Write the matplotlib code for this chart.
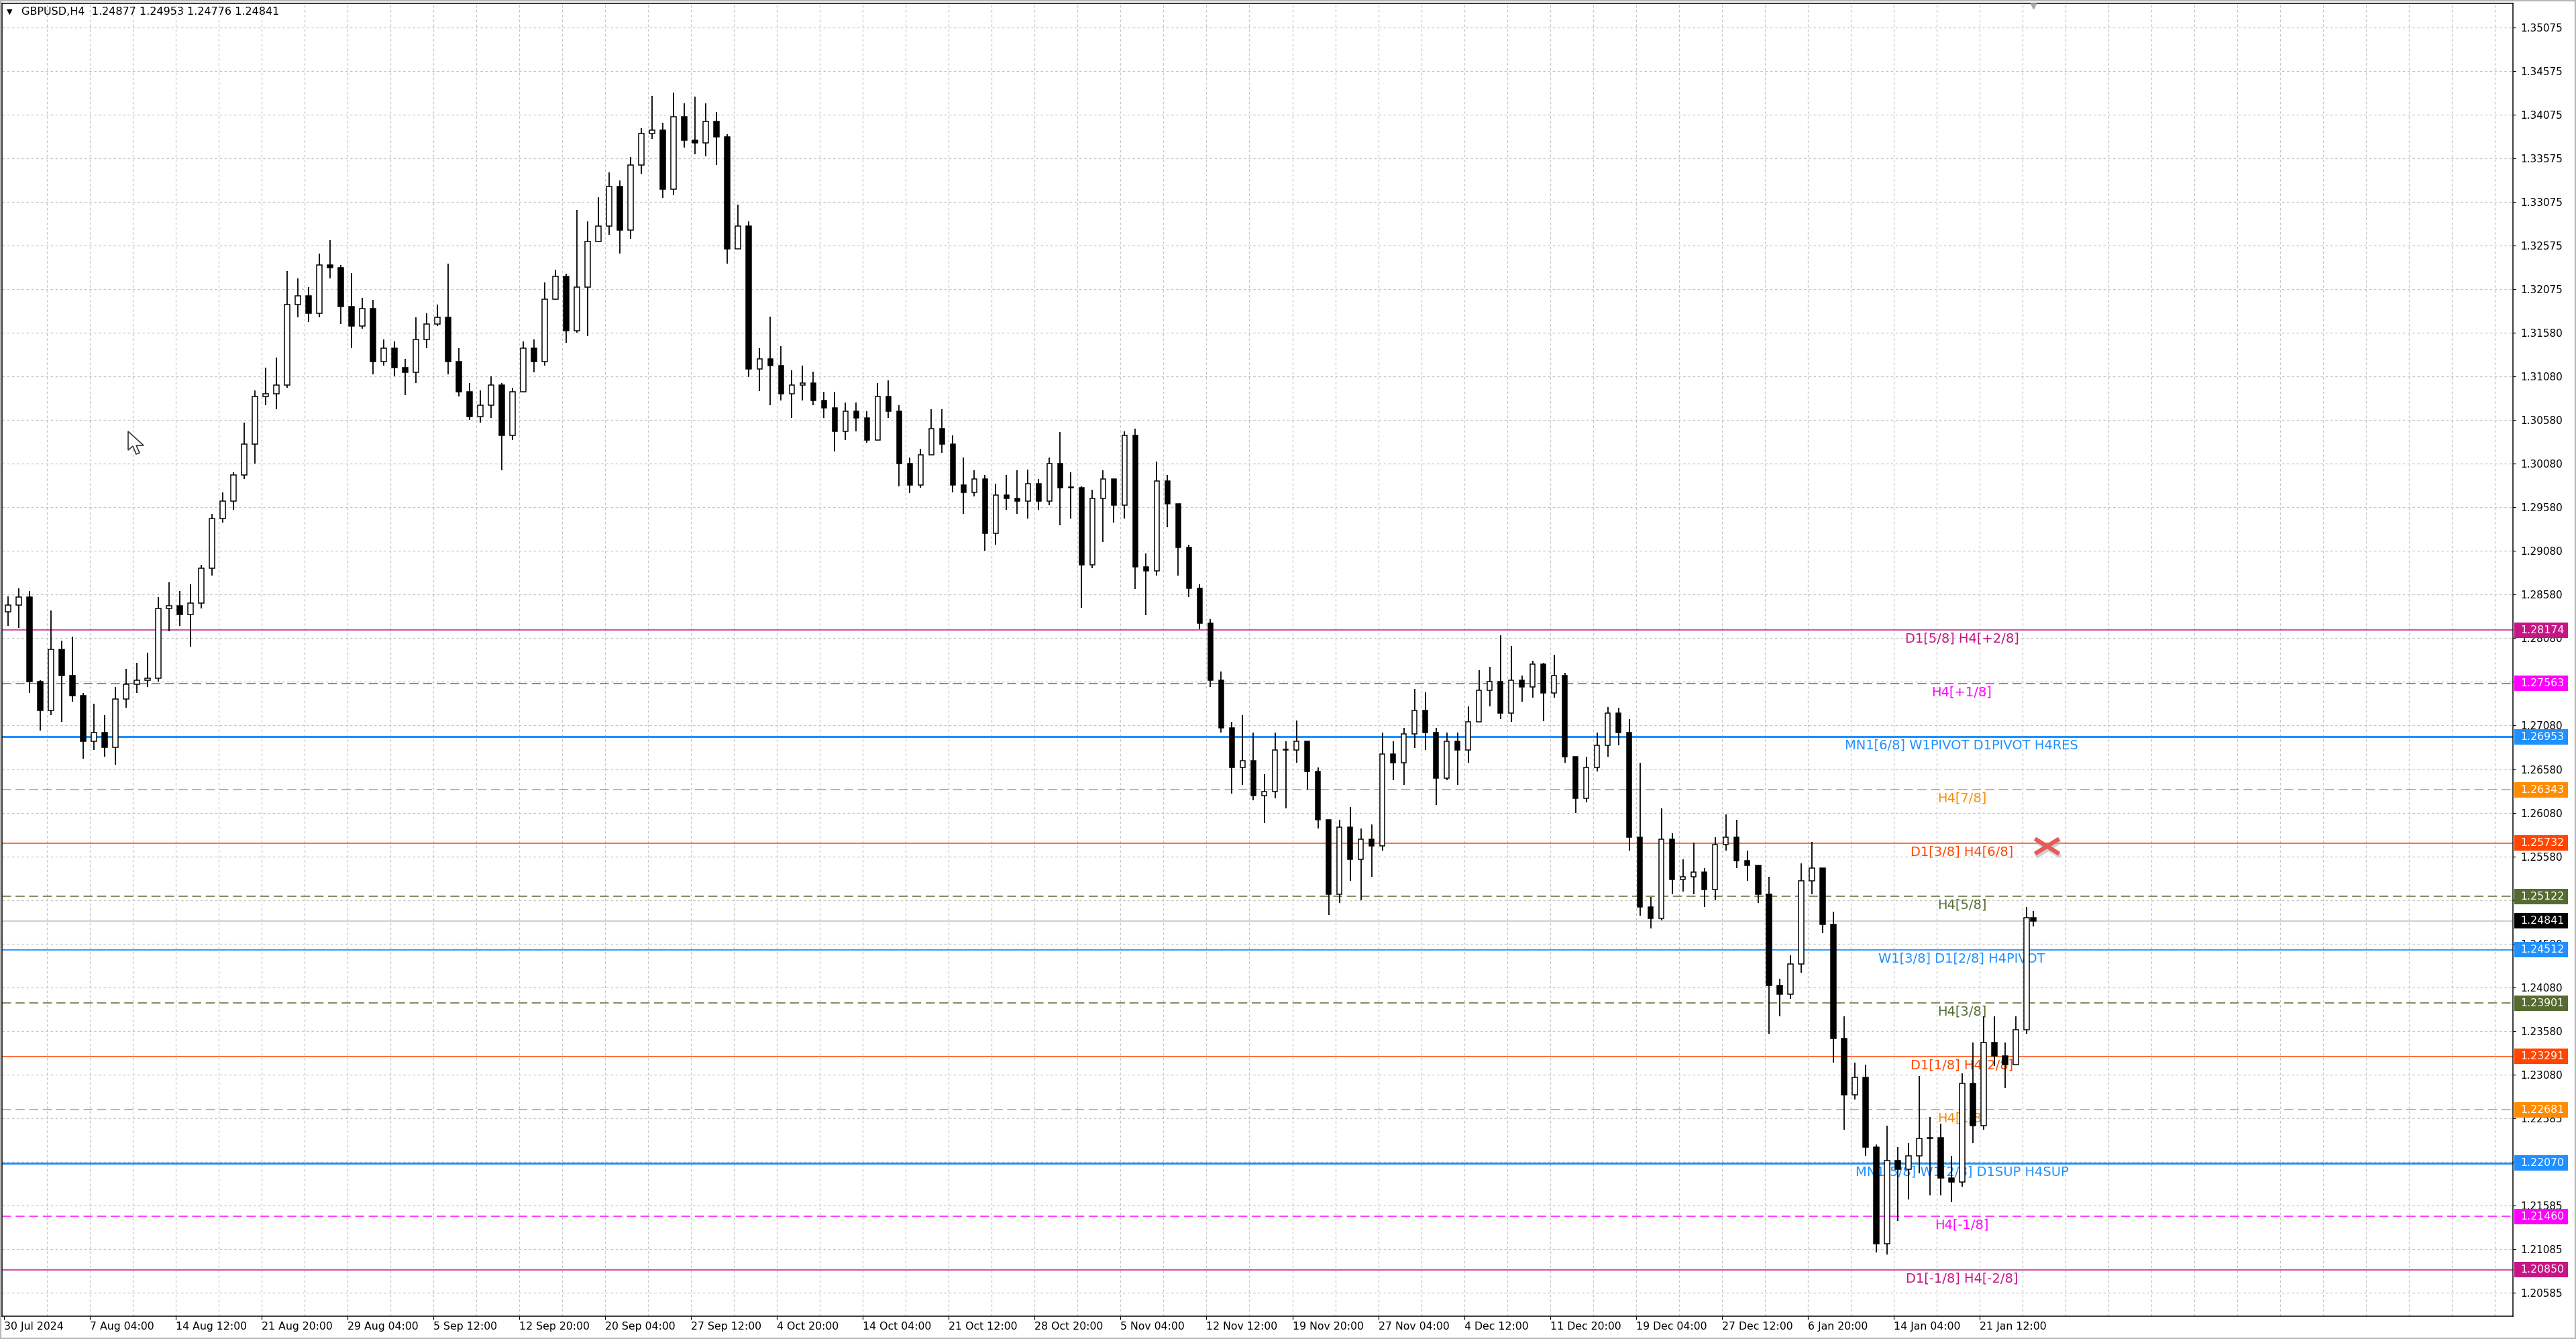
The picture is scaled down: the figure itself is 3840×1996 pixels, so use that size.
import numpy as np
import matplotlib
matplotlib.use('Agg')
import matplotlib.pyplot as plt
import matplotlib.transforms as mtransforms
from matplotlib import font_manager
from matplotlib.patches import Polygon, Rectangle
from matplotlib.path import Path

# ---- data -----------------------------------------------------------------
SYMBOL = 'GBPUSD,H4'
LAST_BAR = [1.24877, 1.24953, 1.24776, 1.24841]   # open, high, low, close

# one candle per 4 H4 bars (16h blocks), starting 30 Jul 2024 20:00
first_open = 1.2838
highs = [
    1.2856, 1.2865, 1.2862, 1.2760, 1.2840, 1.2805, 1.2810, 1.2745, 1.2733, 1.2720,
    1.2752, 1.2773, 1.2780, 1.2791, 1.2855, 1.2872, 1.2862, 1.2870, 1.2892, 1.2950,
    1.2975, 1.2998, 1.3055, 1.3092, 1.3118, 1.3129, 1.3228, 1.3220, 1.3210, 1.3248,
    1.3264, 1.3235, 1.3226, 1.3198, 1.3195, 1.3150, 1.3148, 1.3128, 1.3175, 1.3180,
    1.3190, 1.3237, 1.3140, 1.3100, 1.3092, 1.3108, 1.3100, 1.3095, 1.3148, 1.3150,
    1.3215, 1.3230, 1.3225, 1.3298, 1.3285, 1.3313, 1.3341, 1.3332, 1.3359, 1.3392,
    1.3429, 1.3398, 1.3433, 1.3420, 1.3428, 1.3420, 1.3410, 1.3385, 1.3304, 1.3285,
    1.3140, 1.3176, 1.3142, 1.3115, 1.3120, 1.3113, 1.3090, 1.3090, 1.3078, 1.3078,
    1.3068, 1.3100, 1.3103, 1.3075, 1.3015, 1.3025, 1.3070, 1.3070, 1.3040, 1.3015,
    1.3000, 1.2995, 1.2985, 1.2995, 1.3000, 1.3001, 1.2990, 1.3015, 1.3044, 1.2998,
    1.2982, 1.2978, 1.3000, 1.2985, 1.3045, 1.3048, 1.2905, 1.3010, 1.2995, 1.2960,
    1.2915, 1.2870, 1.2830, 1.2770, 1.2712, 1.2720, 1.2700, 1.2652, 1.2700, 1.2690,
    1.2714, 1.2690, 1.2660, 1.2600, 1.2600, 1.2615, 1.2590, 1.2595, 1.2700, 1.2690,
    1.2705, 1.2750, 1.2746, 1.2705, 1.2700, 1.2700, 1.2730, 1.2771, 1.2775, 1.2811,
    1.2799, 1.2765, 1.2782, 1.2780, 1.2789, 1.2768, 1.2672, 1.2672, 1.2700, 1.2729,
    1.2728, 1.2715, 1.2665, 1.2512, 1.2613, 1.2585, 1.2555, 1.2574, 1.2545, 1.2580,
    1.2606, 1.2600, 1.2565, 1.2545, 1.2535, 1.2418, 1.2445, 1.2550, 1.2575, 1.2545,
    1.2495, 1.2375, 1.2322, 1.2320, 1.2228, 1.2250, 1.2225, 1.2230, 1.2307, 1.2260,
    1.2252, 1.2215, 1.2310, 1.2345, 1.2375, 1.2375, 1.2345, 1.2375, 1.2500, 1.24953,
]
lows = [
    1.2822, 1.2820, 1.2745, 1.2702, 1.2720, 1.2712, 1.2735, 1.2670, 1.2680, 1.2672,
    1.2663, 1.2728, 1.2745, 1.2752, 1.2758, 1.2816, 1.2822, 1.2798, 1.2842, 1.2880,
    1.2940, 1.2955, 1.2990, 1.3008, 1.3075, 1.3070, 1.3095, 1.3175, 1.3170, 1.3175,
    1.3220, 1.3168, 1.3140, 1.3162, 1.3110, 1.3120, 1.3108, 1.3086, 1.3100, 1.3140,
    1.3165, 1.3110, 1.3085, 1.3058, 1.3055, 1.3060, 1.3000, 1.3035, 1.3090, 1.3112,
    1.3120, 1.3195, 1.3146, 1.3158, 1.3154, 1.3272, 1.3270, 1.3248, 1.3265, 1.3340,
    1.3380, 1.3312, 1.3315, 1.3370, 1.3362, 1.3360, 1.3350, 1.3237, 1.3258, 1.3107,
    1.3091, 1.3075, 1.3080, 1.3060, 1.3080, 1.3075, 1.3060, 1.3022, 1.3035, 1.3045,
    1.3032, 1.3045, 1.3060, 1.2982, 1.2974, 1.2980, 1.3018, 1.3020, 1.2975, 1.2950,
    1.2970, 1.2908, 1.2915, 1.2955, 1.2950, 1.2945, 1.2955, 1.2960, 1.2937, 1.2945,
    1.2843, 1.2888, 1.2918, 1.2940, 1.2945, 1.2864, 1.2834, 1.2880, 1.2935, 1.2880,
    1.2855, 1.2818, 1.2752, 1.2700, 1.2630, 1.2640, 1.2622, 1.2596, 1.2625, 1.2613,
    1.2665, 1.2635, 1.2590, 1.2491, 1.2505, 1.2530, 1.2508, 1.2535, 1.2565, 1.2645,
    1.2640, 1.2682, 1.2680, 1.2617, 1.2645, 1.2640, 1.2665, 1.2712, 1.2730, 1.2715,
    1.2712, 1.2735, 1.2740, 1.2713, 1.2740, 1.2665, 1.2608, 1.2620, 1.2655, 1.2672,
    1.2685, 1.2565, 1.2490, 1.2476, 1.2485, 1.2515, 1.2518, 1.2515, 1.2500, 1.2508,
    1.2565, 1.2545, 1.2530, 1.2505, 1.2355, 1.2375, 1.2395, 1.2425, 1.2515, 1.2470,
    1.2322, 1.2245, 1.2280, 1.2215, 1.2105, 1.2102, 1.2141, 1.2165, 1.2195, 1.2170,
    1.2170, 1.2162, 1.2180, 1.2230, 1.2245, 1.2318, 1.2293, 1.2330, 1.2355, 1.24776,
]
closes = [
    1.2846, 1.2855, 1.2758, 1.2725, 1.2795, 1.2765, 1.2742, 1.2690, 1.2700, 1.2683,
    1.2738, 1.2755, 1.2760, 1.2762, 1.2842, 1.2845, 1.2835, 1.2848, 1.2888, 1.2945,
    1.2965, 1.2995, 1.3030, 1.3085, 1.3088, 1.3098, 1.3190, 1.3200, 1.3180, 1.3235,
    1.3232, 1.3188, 1.3165, 1.3185, 1.3125, 1.3140, 1.3118, 1.3112, 1.3150, 1.3168,
    1.3175, 1.3125, 1.3090, 1.3062, 1.3075, 1.3098, 1.3040, 1.3090, 1.3140, 1.3125,
    1.3196, 1.3222, 1.3160, 1.3210, 1.3262, 1.3280, 1.3325, 1.3275, 1.3350, 1.3386,
    1.3390, 1.3322, 1.3405, 1.3378, 1.3375, 1.3400, 1.3382, 1.3254, 1.3280, 1.3116,
    1.3128, 1.3120, 1.3088, 1.3098, 1.3100, 1.3080, 1.3072, 1.3045, 1.3068, 1.3060,
    1.3035, 1.3085, 1.3068, 1.3008, 1.2983, 1.3018, 1.3048, 1.3030, 1.2983, 1.2975,
    1.2990, 1.2928, 1.2972, 1.2968, 1.2965, 1.2985, 1.2965, 1.3008, 1.2980, 1.2980,
    1.2892, 1.2968, 1.2990, 1.2960, 1.3040, 1.2890, 1.2885, 1.2988, 1.2962, 1.2912,
    1.2865, 1.2825, 1.2760, 1.2705, 1.2660, 1.2668, 1.2628, 1.2632, 1.2680, 1.2680,
    1.2690, 1.2655, 1.2600, 1.2515, 1.2592, 1.2555, 1.2578, 1.2570, 1.2675, 1.2665,
    1.2698, 1.2725, 1.2700, 1.2648, 1.2690, 1.2680, 1.2712, 1.2748, 1.2758, 1.2722,
    1.2760, 1.2752, 1.2778, 1.2745, 1.2765, 1.2672, 1.2625, 1.2660, 1.2685, 1.2722,
    1.2700, 1.2580, 1.2500, 1.2487, 1.2578, 1.2532, 1.2535, 1.2540, 1.2520, 1.2572,
    1.2580, 1.2553, 1.2548, 1.2515, 1.2410, 1.2400, 1.2435, 1.2530, 1.2545, 1.2480,
    1.2350, 1.2285, 1.2305, 1.2225, 1.2115, 1.2210, 1.2200, 1.2215, 1.2235, 1.2236,
    1.2190, 1.2185, 1.2298, 1.2250, 1.2345, 1.2330, 1.2320, 1.2360, 1.2488, 1.24841,
]

time_labels = [
    '30 Jul 2024', '7 Aug 04:00', '14 Aug 12:00', '21 Aug 20:00', '29 Aug 04:00',
    '5 Sep 12:00', '12 Sep 20:00', '20 Sep 04:00', '27 Sep 12:00', '4 Oct 20:00',
    '14 Oct 04:00', '21 Oct 12:00', '28 Oct 20:00', '5 Nov 04:00', '12 Nov 12:00',
    '19 Nov 20:00', '27 Nov 04:00', '4 Dec 12:00', '11 Dec 20:00', '19 Dec 04:00',
    '27 Dec 12:00', '6 Jan 20:00', '14 Jan 04:00', '21 Jan 12:00',
]
price_ticks = [
    1.35075, 1.34575, 1.34075, 1.33575, 1.33075, 1.32575, 1.32075, 1.31580, 1.31080,
    1.30580, 1.30080, 1.29580, 1.29080, 1.28580, 1.28080, 1.27580, 1.27080, 1.26580,
    1.26080, 1.25580, 1.25080, 1.24580, 1.24080, 1.23580, 1.23080, 1.22585, 1.22085,
    1.21585, 1.21085, 1.20585,
]

level_prices = [1.28174, 1.27563, 1.26953, 1.26343, 1.25732, 1.25122, 1.24512,
                1.23901, 1.23291, 1.22681, 1.22070, 1.21460, 1.20850]
level_names = ['D1[5/8] H4[+2/8]', 'H4[+1/8]', 'MN1[6/8] W1PIVOT D1PIVOT H4RES',
               'H4[7/8]', 'D1[3/8] H4[6/8]', 'H4[5/8]', 'W1[3/8] D1[2/8] H4PIVOT',
               'H4[3/8]', 'D1[1/8] H4[2/8]', 'H4[1/8]', 'MN1[5/8] W1[2/8] D1SUP H4SUP',
               'H4[-1/8]', 'D1[-1/8] H4[-2/8]']
level_kinds = ['outer', 'plus', 'pivot', 'seven', 'd1', 'five', 'h4pivot',
               'five', 'd1', 'seven', 'pivot', 'plus', 'outer']

# ---- styles ----------------------------------------------------------------
PX = 0.72                      # one pixel in points at dpi 100
kind_style = {
    'outer':   ('#C71585', 'solid', 1.5),
    'plus':    ('#FF00FF', 'dashed', 1.5),
    'pivot':   ('#1E90FF', 'solid', 3.0),
    'seven':   ('#FF8C00', 'dashed', 1.5),
    'd1':      ('#FF4500', 'solid', 1.5),
    'five':    ('#556B2F', 'dashed', 1.5),
    'h4pivot': ('#1E90FF', 'solid', 1.8),
}
GRID = '#c4c4c4'
W, H = 3840, 1996
AX_L, AX_R, AX_T, AX_B = 3, 3746, 5, 1962
BARS_PER_CANDLE = 4

plt.rcParams['font.family'] = ['DejaVu Sans']

# narrow face for the level names, if present
try:
    font_manager.findfont('Liberation Sans Narrow', fallback_to_default=False)
    name_font, name_size = ['Liberation Sans Narrow', 'DejaVu Sans'], 18.5
except ValueError:
    name_font, name_size = ['DejaVu Sans'], 14

fig = plt.figure(figsize=(W / 100, H / 100), dpi=100)
ax = fig.add_axes([AX_L / W, 1 - AX_B / H, (AX_R - AX_L) / W, (AX_B - AX_T) / H])
ax.set_xlim(-0.75, 934.75)
ax.set_ylim(1.20317, 1.35348)
ax_w = AX_R - AX_L
ax_h = AX_B - AX_T
px_price = (1.35348 - 1.20317) / ax_h

# grid
for b in range(16, 935, 16):
    ax.axvline(b, color=GRID, lw=1.2 * PX, ls=(0, (3, 3)), zorder=0)
for p in price_ticks:
    ax.axhline(p, color=GRID, lw=1.2 * PX, ls=(0, (3, 3)), zorder=0)

# level lines and their names
lab_tr = mtransforms.blended_transform_factory(ax.transAxes, ax.transData)
for p, name, kind in zip(level_prices, level_names, level_kinds):
    col, ls, w = kind_style[kind]
    style = '-' if ls == 'solid' else (0, (9, 4.5))
    ax.axhline(p, color=col, lw=w * PX, ls=style, zorder=1)
    ax.annotate(name, xy=(0.7805, p), xycoords=lab_tr, xytext=(0, -13),
                textcoords='offset pixels', ha='center', va='center',
                color=col, fontsize=name_size, family=name_font, zorder=2)

# bid line
ax.axhline(LAST_BAR[3], color='#c0c0c0', lw=1.5 * PX, zorder=1)

# candles
n = len(closes)
opens = [first_open] + closes[:-1]
opens[-1] = LAST_BAR[0]
xs = np.arange(n) * BARS_PER_CANDLE + 1.5
xs[-1] = (n - 1) * BARS_PER_CANDLE
o = np.array(opens)
c = np.array(closes)
hi = np.maximum(np.array(highs), np.maximum(o, c))
lo = np.minimum(np.array(lows), np.minimum(o, c))
ax.vlines(xs, lo, hi, color='black', lw=1.8 * PX, zorder=3)
bull = c >= o
body_lo = np.minimum(o, c)
body_h = np.maximum(np.abs(c - o), 0.00008)
ax.bar(xs[bull], body_h[bull], bottom=body_lo[bull], width=1.9,
       facecolor='white', edgecolor='black', lw=1.5 * PX, zorder=4)
ax.bar(xs[~bull], body_h[~bull], bottom=body_lo[~bull], width=1.9,
       facecolor='black', edgecolor='black', lw=1.5 * PX, zorder=4)

# axes / ticks
for s in ax.spines.values():
    s.set_color('black')
    s.set_linewidth(1.5 * PX)
ax.yaxis.tick_right()
ax.set_yticks(price_ticks, [f'{p:.5f}' for p in price_ticks])
ax.set_xticks(np.arange(len(time_labels)) * 32, time_labels)
ax.tick_params(axis='y', length=4 * PX, width=1.2 * PX, pad=5, labelsize=11)
ax.tick_params(axis='x', length=5 * PX, width=1.2 * PX, pad=2, labelsize=11.3)
for t in ax.get_xticklabels():
    t.set_horizontalalignment('left')

# price tags on the right
tag_tr = mtransforms.blended_transform_factory(ax.transAxes, ax.transData)
tag_x0 = (3748 - AX_L) / ax_w
tag_w = 80 / ax_w
tag_h = 23 * px_price
tag_text_x = (3757 - AX_L) / ax_w
tags = [(p, kind_style[k][0]) for p, k in zip(level_prices, level_kinds)]
tags.append((LAST_BAR[3], 'black'))
for p, col in tags:
    ax.add_patch(Rectangle((tag_x0, p - tag_h / 2), tag_w, tag_h, transform=tag_tr,
                           fc=col, ec='none', clip_on=False, zorder=9))
    ax.text(tag_text_x, p, f'{p:.5f}', transform=tag_tr, ha='left', va='center',
            color='white', fontsize=11.3, zorder=10, clip_on=False)

# header
fig.text(10 / W, 1 - 18 / H, '\u25BC', fontsize=8, va='center', ha='left')
fig.text(32 / W, 1 - 18 / H,
         f'{SYMBOL}  ' + ' '.join(f'{v:.5f}' for v in LAST_BAR),
         fontsize=11.5, va='center', ha='left')

# red cross object next to the last bar
cross = Path([(-1, -0.62), (1, 0.62), (-1, 0.62), (1, -0.62)],
             [Path.MOVETO, Path.LINETO, Path.MOVETO, Path.LINETO])
cross_x = xs[-1] + 5
cross_y = level_prices[4] - 0.0003
shadow = mtransforms.offset_copy(ax.transData, fig=fig, x=2, y=-4, units='dots')
ax.plot([cross_x], [cross_y], marker=cross, ms=26, mew=4.5, color='#b0b0b0',
        alpha=0.6, transform=shadow, zorder=6)
ax.plot([cross_x], [cross_y], marker=cross, ms=26, mew=4.5, color='#e85a5a', zorder=7)

# chart shift marker
top_tr = mtransforms.blended_transform_factory(ax.transData, ax.transAxes)
ax.plot([xs[-1]], [0.998], marker='v', ms=6, color='#a8a8a8', transform=top_tr,
        clip_on=False, zorder=8)

# mouse cursor
tip_x, tip_y = 191, H - 643
shape = [(0, 0), (0, 28), (7, 22), (12, 34), (17, 32), (12, 21), (23, 21)]
pts = [(tip_x + dx, tip_y - dy) for dx, dy in shape]
fig.add_artist(Polygon(pts, closed=True, fc='white', ec='#333333', lw=1.2,
                       transform=mtransforms.IdentityTransform(), zorder=20))

# window frame
fig.add_artist(Rectangle((0, 0), 1, 1, transform=fig.transFigure, fill=False,
                         ec='#b8b8b8', lw=3))

fig.savefig('out.png', dpi=100, facecolor='white')
